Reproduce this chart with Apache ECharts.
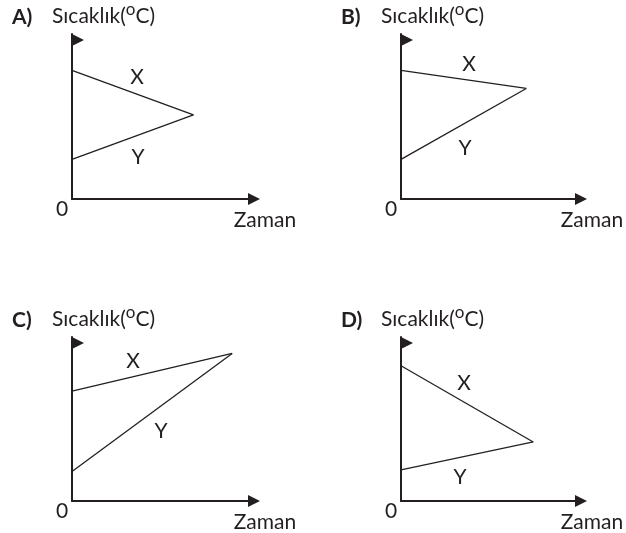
<!DOCTYPE html>
<html>
<head>
<meta charset="utf-8">
<script src="https://cdn.jsdelivr.net/npm/echarts@6/dist/echarts.min.js"></script>
<style>html,body{margin:0;padding:0;background:#fff;}#c{width:626px;height:533px;}</style>
</head>
<body>
<div id="c"></div>
<script>
// ---- data (arbitrary 0..100 units on both axes) ----
const panelNames = ['A)', 'B)', 'C)', 'D)'];
const seriesNames = ['X', 'Y'];
const yAxisTitle = 'Sıcaklık(';
const yAxisUnit = 'C)';
const xAxisTitle = 'Zaman';
const originLabel = '0';
const aX = [[0, 78], [69, 51]];
const aY = [[0, 24], [69, 51]];
const bX = [[0, 78], [72, 67]];
const bY = [[0, 24], [72, 67]];
const cX = [[0, 67], [91, 90]];
const cY = [[0, 18], [91, 90]];
const dX = [[0, 82.5], [76, 36]];
const dY = [[0, 19], [76, 36]];

const lines = [[aX, aY], [bX, bY], [cX, cY], [dX, dY]];
const INK = '#231f20';
const FONT = 'Lato, "Open Sans", sans-serif';

const grids = [
  {left: 72, top: 34, width: 176, height: 165},
  {left: 401, top: 34, width: 174, height: 165},
  {left: 72, top: 337, width: 176, height: 164},
  {left: 401, top: 337, width: 174, height: 164}
];
// label centres for X and Y line names, per panel (pixels)
const nameLabelPos = [
  [[137, 77], [138, 157]],
  [[469, 64], [465, 148]],
  [[133, 361], [161, 431]],
  [[464, 383], [460, 477]]
];

const flagPath = 'path://M-12,6 M0,0 L0,12 L12,6 Z';

const xAxes = grids.map((g, i) => ({
  type: 'value', gridIndex: i, min: 0, max: 100,
  axisLine: {show: true, onZero: false, symbol: ['none', 'triangle'], symbolSize: [12, 12], symbolOffset: [0, 6],
    lineStyle: {color: INK, width: 2}},
  axisTick: {show: false}, axisLabel: {show: false}, splitLine: {show: false}
}));
const yAxes = grids.map((g, i) => ({
  type: 'value', gridIndex: i, min: 0, max: 100,
  axisLine: {show: true, onZero: false, symbol: ['none', flagPath], symbolSize: [24, 12], symbolOffset: [0, -6],
    lineStyle: {color: INK, width: 2}},
  axisTick: {show: false}, axisLabel: {show: false}, splitLine: {show: false}
}));

const series = [];
lines.forEach((pair, i) => {
  pair.forEach((d, j) => {
    series.push({
      name: panelNames[i] + seriesNames[j], type: 'line', xAxisIndex: i, yAxisIndex: i,
      data: d, symbol: 'none', silent: true, animation: false,
      lineStyle: {color: INK, width: 1.3}
    });
  });
});

const graphic = [];
grids.forEach((g, i) => {
  const bottom = g.top + g.height;
  const titleY = g.top - 18;
  graphic.push({type: 'text', style: {text: panelNames[i], x: g.left - 60, y: titleY + 1, fill: INK,
    font: 'bold 21px ' + FONT, textVerticalAlign: 'middle'}});
  graphic.push({type: 'text', style: {
    text: '{a|' + yAxisTitle + '}{s|o}{a|' + yAxisUnit + '}', x: g.left - 20, y: titleY, textVerticalAlign: 'middle',
    rich: {
      a: {fontFamily: FONT, fontSize: 21, fill: INK, lineHeight: 30, verticalAlign: 'middle'},
      s: {fontFamily: FONT, fontSize: 17, fill: INK, lineHeight: 17, verticalAlign: 'top'}
    }}});
  graphic.push({type: 'text', style: {text: originLabel, x: g.left - 10, y: bottom + 10, fill: INK,
    font: '21px ' + FONT, textAlign: 'center', textVerticalAlign: 'middle'}});
  graphic.push({type: 'text', style: {text: xAxisTitle, x: g.left + g.width + 17, y: bottom + 21, fill: INK,
    font: '21px ' + FONT, textAlign: 'center', textVerticalAlign: 'middle'}});
  nameLabelPos[i].forEach((p, j) => {
    graphic.push({type: 'text', style: {text: seriesNames[j], x: p[0], y: p[1], fill: INK,
      font: '21px ' + FONT, textAlign: 'center', textVerticalAlign: 'middle'}});
  });
});

const chart = echarts.init(document.getElementById('c'));
chart.setOption({
  backgroundColor: '#ffffff',
  animation: false,
  grid: grids,
  xAxis: xAxes,
  yAxis: yAxes,
  series: series,
  graphic: graphic
});
</script>
</body>
</html>
